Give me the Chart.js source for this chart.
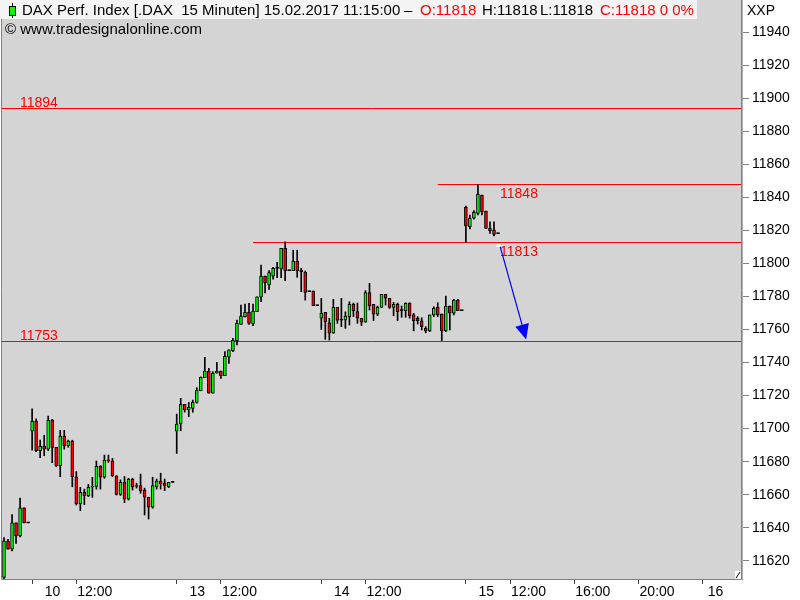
<!DOCTYPE html>
<html><head><meta charset="utf-8">
<script src="https://cdn.jsdelivr.net/npm/chart.js@4.4.1/dist/chart.umd.min.js"></script>
<style>html,body{margin:0;padding:0;background:#fff}#wrap{width:800px;height:600px}</style>
</head><body><div id="wrap"><canvas id="c" width="800" height="600"></canvas></div>
<script>
// ---- time slots (15-minute bars) ----
function slots(day, h0, m0, h1, m1) {
  const out = [];
  for (let t = h0 * 60 + m0; t <= h1 * 60 + m1; t += 15) {
    out.push(day + ' ' + String(Math.floor(t / 60)).padStart(2, '0') + ':' + String(t % 60).padStart(2, '0'));
  }
  return out;
}
const categories = [
  ...slots('09.02', 16, 30, 18, 0),
  ...slots('10.02', 9, 15, 18, 0),
  ...slots('13.02', 9, 15, 18, 0),
  ...slots('14.02', 9, 15, 18, 0),
  ...slots('15.02', 9, 15, 23, 45),
  ...slots('16.02', 0, 0, 2, 15)
];

// ---- OHLC values (first 124 slots) ----
const open = [
  11610, 11632, 11627, 11643, 11635, 11652, 11643,
  11698.5, 11704.5, 11686.7, 11689.5, 11687.5, 11705.2, 11688.7, 11677.6, 11695.5, 11689.7, 11692.5, 11670.9, 11654.4, 11661.4, 11659.4, 11664.5, 11665, 11677.2, 11670.6, 11681, 11680.5, 11671.5, 11660.2, 11667.5, 11657.3, 11669.3, 11665, 11665.5, 11662.8, 11658.5, 11652.4, 11664.8, 11668.3, 11667, 11664.8, 11667.5,
  11698.4, 11702.8, 11714.7, 11711.3, 11712.3, 11715.9, 11722.9, 11730.9, 11734.9, 11721.4, 11733.5, 11734.9, 11732.1, 11743.2, 11747.2, 11753.2, 11763.1, 11767.8, 11770.4, 11763.3, 11770.8, 11779.5, 11792.3, 11786.9, 11792.3, 11797, 11796.6, 11809.1, 11795.6, 11795.6, 11801.4, 11796, 11794.6, 11782.9, 11783.3, 11774.4,
  11766.8, 11770.4, 11764.1, 11757.7, 11773.4, 11765.7, 11765.7, 11767.8, 11775.2, 11770.8, 11766.8, 11764.4, 11782.3, 11775.2, 11769.2, 11773.4, 11781.3, 11778.9, 11773.4, 11775.2, 11771.4, 11771.4, 11775.8, 11768.8, 11766.8, 11765.3, 11760.7, 11759.2, 11768.8, 11773.4, 11769.4, 11759.1, 11774.2, 11769.8, 11777.8, 11771.4,
  11833.9, 11822.2, 11827.3, 11830.3, 11841.4, 11831.7, 11821.2, 11820.2, 11818
];
const high = [
  11634, 11633, 11648, 11643, 11658, 11652, 11643,
  11712, 11706, 11693, 11696, 11707.6, 11705.6, 11688.7, 11699, 11699, 11693.1, 11693, 11674, 11664.5, 11663.4, 11666.3, 11670.5, 11680.4, 11677.6, 11684, 11684, 11682, 11671.5, 11669, 11671, 11670, 11670, 11667, 11672.5, 11664, 11658.5, 11670.6, 11669.5, 11673, 11669.5, 11667.5, 11667.5,
  11708.8, 11718.3, 11714.7, 11715.9, 11717.3, 11724.8, 11731.3, 11743.1, 11736.5, 11734.5, 11740.1, 11734.9, 11746.6, 11747.7, 11754.6, 11765.7, 11774.8, 11775.4, 11775.8, 11775.4, 11779.8, 11799, 11792.3, 11795.6, 11797.6, 11800.6, 11809.1, 11813.1, 11795.6, 11808, 11808, 11797, 11795.4, 11782.9, 11783.3, 11774.4,
  11778.8, 11770.4, 11766.8, 11778.2, 11773.4, 11778.8, 11770.7, 11776.8, 11776, 11776, 11766.8, 11783.5, 11787.9, 11775.2, 11774.2, 11781.3, 11781.3, 11778.9, 11776.4, 11776, 11774.2, 11776.2, 11776.2, 11769.8, 11767.8, 11767.1, 11761.7, 11768.8, 11773.8, 11776.2, 11769.4, 11780.2, 11774.2, 11778.2, 11778.2, 11771.4,
  11834.7, 11829.3, 11831.9, 11847.8, 11841.4, 11831.7, 11825.2, 11825.2, 11818
];
const low = [
  11609, 11627, 11626, 11630.5, 11634.5, 11643, 11643,
  11687, 11686, 11682.4, 11683.6, 11686.7, 11679.4, 11677, 11670.9, 11687.6, 11688.7, 11664.8, 11653.8, 11650.4, 11654, 11658.8, 11658.4, 11663.4, 11663.4, 11670, 11679.6, 11671, 11659.8, 11659.6, 11655.2, 11656.8, 11662.8, 11664, 11660.9, 11647.7, 11645.3, 11651.8, 11663.4, 11663.4, 11662.5, 11664.3, 11667.5,
  11685, 11698.7, 11710, 11707.2, 11709.9, 11715.4, 11722.9, 11730.9, 11721.4, 11721.4, 11733.5, 11730.4, 11732.1, 11739.5, 11746.6, 11750.6, 11763.1, 11767.4, 11763.1, 11762.3, 11770.8, 11776.8, 11782.2, 11784.3, 11790.4, 11791.3, 11791.3, 11789.5, 11795.6, 11795.6, 11791.6, 11782.9, 11777.8, 11782.9, 11774.4, 11774.4,
  11760, 11754, 11753.6, 11757.7, 11763.7, 11761.7, 11760.7, 11762.7, 11767.8, 11763.7, 11762.3, 11764.4, 11771.8, 11765.4, 11768.3, 11773.4, 11774.8, 11772.8, 11768.3, 11765.4, 11767.4, 11767.4, 11766.8, 11759.2, 11763.3, 11759.7, 11758, 11758.7, 11767.8, 11767.8, 11753.3, 11758.7, 11759.7, 11768.8, 11771.4, 11771.4,
  11812.5, 11820.8, 11826.7, 11829.3, 11829.3, 11821.2, 11818.2, 11816.7, 11818
];
const close = [
  11632, 11627, 11643, 11635, 11652, 11643, 11643,
  11704.5, 11686.7, 11689.5, 11687.5, 11705.2, 11688.7, 11677.6, 11695.5, 11689.7, 11692.5, 11670.9, 11654.4, 11661.4, 11659.4, 11664.5, 11665, 11677.2, 11670.6, 11681, 11680.5, 11671.5, 11660.2, 11667.5, 11657.3, 11669.3, 11664.8, 11665.5, 11662.4, 11658.5, 11652.4, 11665.5, 11668.3, 11666.5, 11665.5, 11667.5, 11667.5,
  11702.8, 11714.7, 11711.3, 11712.9, 11715.9, 11723.4, 11731, 11734.9, 11721.4, 11733.5, 11734.9, 11732.1, 11743.8, 11747.7, 11753.6, 11763.7, 11768.1, 11770.4, 11763.7, 11771.2, 11779.8, 11792.3, 11788.3, 11794.4, 11797, 11797, 11809.1, 11795.6, 11795.6, 11801.4, 11795.6, 11795, 11782.5, 11782.9, 11774.4, 11774.4,
  11769.8, 11764.7, 11757.7, 11773.4, 11765.7, 11765.7, 11768.1, 11775.2, 11771.4, 11766.8, 11764.4, 11782.3, 11774.4, 11769.2, 11773.4, 11781.3, 11778.9, 11773.4, 11775.2, 11770.8, 11771.4, 11775.8, 11768.4, 11765.3, 11765.3, 11761.7, 11759.2, 11768.8, 11772.8, 11768.8, 11759.1, 11774.2, 11769.8, 11777.8, 11771.4, 11771.4,
  11822.8, 11827.3, 11830.9, 11842, 11831.3, 11821.2, 11819.8, 11817.6, 11818
];

// ---- x tick labels ----
const tickCategories = ['10.02 09:15', '10.02 12:00', '13.02 09:15', '13.02 12:00', '14.02 09:15', '14.02 12:00', '15.02 09:15', '15.02 12:00', '15.02 16:00', '15.02 20:00', '16.02 00:00'];
const tickTexts = ['   10', '12:00', '   13', '12:00', '   14', '12:00', '   15', '12:00', '16:00', '20:00', ' 16'];

// ---- y axis ----
const yMin = 11609, yMax = 11959.4, yStep = 20;

// ---- horizontal levels ----
const levelValues = [11894, 11753, 11848, 11813];
const levelStarts = ['09.02 16:30', '09.02 16:30', '14.02 16:30', '13.02 14:00'];
const levelLabelAt = ['left', 'left', '15.02 11:30', '15.02 11:30'];
const levelLabelSide = ['above', 'above', 'below', 'below'];

// ---- arrow ----
const arrowFrom = ['15.02 11:15', 11810.5];
const arrowTo = ['15.02 13:00', 11754];

// ---- title ----
const titleParts = [
  ['DAX Perf. Index [.DAX  15 Minuten] 15.02.2017 11:15:00', '#000', 22],
  ['\u2013', '#000', 404],
  ['O:11818', '#f00', 420],
  ['H:11818', '#000', 482],
  ['L:11818', '#000', 540],
  ['C:11818 0 0%', '#f00', 600]
];
const subtitle = '\u00a9 www.tradesignalonline.com';
const axisUnit = 'XXP';

const GREEN = '#00ff00', RED = '#ff0000';
const N = open.length;
const bodyData = categories.map((c, i) => i < N ? [open[i], close[i]] : null);
const wickData = categories.map((c, i) => i < N ? [low[i], high[i]] : null);
const tickMap = {};
tickCategories.forEach((c, k) => { tickMap[categories.indexOf(c)] = tickTexts[k]; });

const FONT = '"Liberation Sans", Arial, sans-serif';

const decor = {
  id: 'decor',
  beforeDraw(chart) {
    const {ctx, chartArea: a} = chart;
    ctx.save();
    ctx.fillStyle = '#fff';
    ctx.fillRect(0, 0, chart.width, chart.height);
    ctx.fillStyle = '#d4d4d4';
    ctx.fillRect(a.left, a.top, a.right - a.left, a.bottom - a.top);
    ctx.restore();
  },
  beforeDatasetsDraw(chart) {
    const {ctx, chartArea: a, scales: {x, y}} = chart;
    ctx.save();
    ctx.strokeStyle = '#ff0000';
    ctx.lineWidth = 1;
    ctx.font = '14px ' + FONT;
    ctx.fillStyle = '#ff0000';
    ctx.textBaseline = 'alphabetic';
    levelValues.forEach((v, k) => {
      const py = Math.round(y.getPixelForValue(v)) + 0.5;
      const sx = categories.indexOf(levelStarts[k]);
      const px0 = k < 2 ? a.left : x.getPixelForValue(sx);
      ctx.beginPath();
      ctx.moveTo(px0, py);
      ctx.lineTo(a.right, py);
      ctx.stroke();
      const lx = levelLabelAt[k] === 'left' ? a.left + 18 : x.getPixelForValue(categories.indexOf(levelLabelAt[k])) - 2;
      const ly = levelLabelSide[k] === 'above' ? py - 1.5 : py + 13;
      ctx.fillText(String(v), lx, ly);
    });
    ctx.restore();
  },
  afterDraw(chart) {
    const {ctx, chartArea: a, scales: {x, y}} = chart;
    ctx.save();
    // frame
    ctx.strokeStyle = '#808080';
    ctx.lineWidth = 1;
    ctx.beginPath();
    ctx.moveTo(a.left - 0.5, a.top);
    ctx.lineTo(a.left - 0.5, a.bottom + 0.5);
    ctx.lineTo(a.right + 0.5, a.bottom + 0.5);
    ctx.lineTo(a.right + 0.5, a.top);
    ctx.stroke();
    ctx.strokeStyle = '#b0b0b0';
    ctx.beginPath();
    ctx.moveTo(a.right + 1.5, a.top);
    ctx.lineTo(a.right + 1.5, a.bottom + 1.5);
    ctx.stroke();
    // resize glyph bottom-right
    ctx.fillStyle = '#fff';
    ctx.fillRect(a.right - 6, a.bottom - 8, 6, 8);
    ctx.strokeStyle = '#000';
    ctx.beginPath();
    ctx.moveTo(a.right - 5, a.bottom - 1);
    ctx.lineTo(a.right - 1, a.bottom - 7);
    ctx.stroke();

    // arrow
    const x1 = x.getPixelForValue(categories.indexOf(arrowFrom[0])) + 2, y1 = y.getPixelForValue(arrowFrom[1]);
    const x2 = x.getPixelForValue(categories.indexOf(arrowTo[0])), y2 = y.getPixelForValue(arrowTo[1]);
    const dx = x2 - x1, dy = y2 - y1, len = Math.hypot(dx, dy);
    const ux = dx / len, uy = dy / len;
    const hl = 15, hw = 7;
    ctx.strokeStyle = '#0000ff';
    ctx.fillStyle = '#0000ff';
    ctx.lineWidth = 1.2;
    ctx.beginPath();
    ctx.moveTo(x1, y1);
    ctx.lineTo(x2 - ux * hl, y2 - uy * hl);
    ctx.stroke();
    ctx.beginPath();
    ctx.moveTo(x2, y2);
    ctx.lineTo(x2 - ux * hl - uy * hw, y2 - uy * hl + ux * hw);
    ctx.lineTo(x2 - ux * hl + uy * hw, y2 - uy * hl - ux * hw);
    ctx.closePath();
    ctx.fill();
    ctx.fillStyle = '#ffffe0';
    ctx.fillRect(x1 - 3.5, y1 - 2, 4, 3);

    // title box
    ctx.fillStyle = '#f4f4f4';
    ctx.fillRect(0, 0, 697, 19);
    // candle icon
    ctx.strokeStyle = '#000';
    ctx.lineWidth = 1;
    ctx.beginPath();
    ctx.moveTo(12.5, 3); ctx.lineTo(12.5, 18);
    ctx.stroke();
    ctx.fillStyle = '#000';
    ctx.fillRect(9, 6, 7, 10);
    ctx.fillStyle = '#00ff00';
    ctx.fillRect(10, 7, 5, 8);
    ctx.font = '15px ' + FONT;
    ctx.textBaseline = 'middle';
    titleParts.forEach(([t, c, px]) => { ctx.fillStyle = c; ctx.fillText(t, px, 10.5); });
    ctx.fillStyle = '#000';
    ctx.fillText(subtitle, 5, 30);
    ctx.font = '14px ' + FONT;
    ctx.fillText(axisUnit, 747, 11);
    ctx.restore();
  }
};

new Chart(document.getElementById('c'), {
  type: 'bar',
  data: {
    labels: categories,
    datasets: [
      {
        label: 'body', data: bodyData, grouped: false, order: 0,
        barThickness: 3, minBarLength: 1, borderWidth: 1, borderSkipped: false,
        borderColor: '#000',
        backgroundColor: (ctx) => {
          const i = ctx.dataIndex;
          if (i >= N) return '#000';
          return close[i] > open[i] ? GREEN : (close[i] < open[i] ? RED : '#000');
        }
      },
      {
        label: 'wick', data: wickData, grouped: false, order: 1,
        barThickness: 1, borderWidth: 0, backgroundColor: '#000'
      }
    ]
  },
  options: {
    responsive: false, animation: false,
    layout: {padding: {left: 2, top: 0, right: 0, bottom: 0}, autoPadding: false},
    plugins: {legend: {display: false}, tooltip: {enabled: false}, title: {display: false}},
    scales: {
      x: {
        type: 'category', offset: true,
        grid: {
          offset: false, drawOnChartArea: false, drawTicks: true, tickLength: 5, lineWidth: 1,
          tickColor: (ctx) => tickMap[ctx.index] !== undefined ? '#404040' : 'rgba(0,0,0,0)',
          color: 'rgba(0,0,0,0)'
        },
        border: {display: false},
        ticks: {
          autoSkip: false, maxRotation: 0, minRotation: 0, align: 'start', labelOffset: 1, padding: 0,
          font: {family: FONT, size: 14}, color: '#000',
          callback: (v, i) => tickMap[i] !== undefined ? tickMap[i] : ''
        },
        afterFit: (s) => { s.height = 21; s.paddingLeft = 0; s.paddingRight = 0; }
      },
      y: {
        position: 'right', min: yMin, max: yMax,
        grid: {drawOnChartArea: false, drawTicks: true, tickLength: 8, tickColor: '#808080', color: 'rgba(0,0,0,0)'},
        border: {display: false},
        ticks: {stepSize: yStep, includeBounds: false, padding: 3, font: {family: FONT, size: 14}, color: '#000',
          callback: (v) => String(v)},
        afterFit: (s) => { s.width = 59; s.paddingTop = 0; s.paddingBottom = 0; }
      }
    }
  },
  plugins: [decor]
});
</script>
</body></html>
